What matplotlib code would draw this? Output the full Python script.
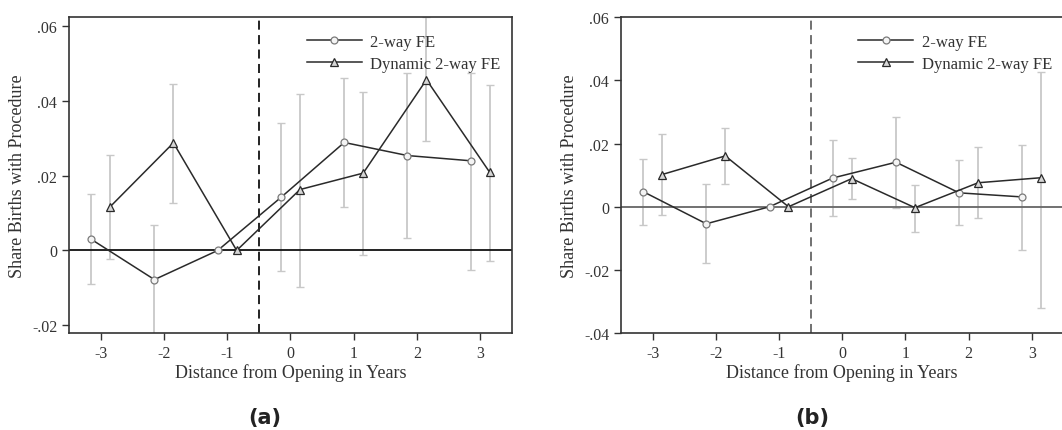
import numpy as np
import matplotlib.pyplot as plt

plt.rcParams['font.family'] = ['Liberation Serif', 'DejaVu Serif']

# event time (years from opening)
years = [-3, -2, -1, 0, 1, 2, 3]

# panel (a)
a_fe = [0.0030, -0.0078, 0.0, 0.0142, 0.0289, 0.0254, 0.0240]
a_fe_hi = [0.0150, 0.0068, 0.0, 0.0340, 0.0461, 0.0476, 0.0476]
a_fe_lo = [-0.0091, -0.0240, 0.0, -0.0056, 0.0117, 0.0033, -0.0052]
a_dyn = [0.0117, 0.0288, 0.0, 0.0163, 0.0207, 0.0457, 0.0209]
a_dyn_hi = [0.0255, 0.0446, 0.0, 0.0419, 0.0423, 0.0624, 0.0443]
a_dyn_lo = [-0.0024, 0.0127, 0.0, -0.0099, -0.0012, 0.0292, -0.0027]

# panel (b)
b_fe = [0.0048, -0.0054, 0.0, 0.0091, 0.0141, 0.0044, 0.0031]
b_fe_hi = [0.0151, 0.0073, 0.0, 0.0210, 0.0284, 0.0147, 0.0197]
b_fe_lo = [-0.0059, -0.0178, 0.0, -0.0028, -0.0003, -0.0058, -0.0136]
b_dyn = [0.0102, 0.0161, 0.0, 0.0089, -0.0003, 0.0076, 0.0092]
b_dyn_hi = [0.0229, 0.0249, 0.0, 0.0153, 0.0070, 0.0188, 0.0426]
b_dyn_lo = [-0.0025, 0.0071, 0.0, 0.0023, -0.0079, -0.0037, -0.0322]

a_yticks = [-0.02, 0, 0.02, 0.04, 0.06]
a_ylabels = ['-.02', '0', '.02', '.04', '.06']
b_yticks = [-0.04, -0.02, 0, 0.02, 0.04, 0.06]
b_ylabels = ['-.04', '-.02', '0', '.02', '.04', '.06']

fig = plt.figure(figsize=(10.62, 4.31), dpi=100)
ax1 = fig.add_axes([0.065, 0.225, 0.417, 0.7325])
ax2 = fig.add_axes([0.5847, 0.225, 0.4167, 0.7325])

x = np.array(years, dtype=float)
ci_col = '#c8c8c8'
line_col = '#2a2a2a'


def panel(ax, fe, fe_lo, fe_hi, dyn, dyn_lo, dyn_hi, zcol):
    xf = x - 0.15
    xd = x + 0.15
    fe = np.array(fe); dyn = np.array(dyn)
    ax.errorbar(xf, fe, yerr=[fe - np.array(fe_lo), np.array(fe_hi) - fe],
                fmt='none', ecolor=ci_col, elinewidth=1.3, capsize=3, capthick=1, zorder=1)
    ax.errorbar(xd, dyn, yerr=[dyn - np.array(dyn_lo), np.array(dyn_hi) - dyn],
                fmt='none', ecolor=ci_col, elinewidth=1.3, capsize=3, capthick=1, zorder=1)
    ax.axhline(0, color=zcol, lw=1.3, zorder=2)
    ax.axvline(-0.5, color=zcol, lw=1.3, ls=(0, (5, 3)), zorder=2)
    ax.plot(xf, fe, color=line_col, lw=1.1, marker='o', ms=5, mfc='#f4f4f4',
            mec='#7a7a7a', mew=0.9, label='2-way FE', zorder=3)
    ax.plot(xd, dyn, color=line_col, lw=1.1, marker='^', ms=6, mfc='#d6d6d6',
            mec='#2a2a2a', mew=0.9, label='Dynamic 2-way FE', zorder=3)
    ax.set_xlim(-3.5, 3.5)
    ax.set_xticks(years)
    ax.set_xticklabels([str(v) for v in years])
    ax.set_xlabel('Distance from Opening in Years', fontsize=13, color='#333333', labelpad=2)
    ax.set_ylabel('Share Births with Procedure', fontsize=13, color='#333333', labelpad=4)
    ax.tick_params(labelsize=11.5, colors='#333333', length=5, width=1)
    for s in ax.spines.values():
        s.set_color('#333333')
        s.set_linewidth(1.2)
    ax.legend(loc='upper right', frameon=False, fontsize=12, handlelength=3.3,
              handletextpad=0.5, borderaxespad=0.3, labelspacing=0.35,
              bbox_to_anchor=(1.0, 0.985), labelcolor='#333333')


panel(ax1, a_fe, a_fe_lo, a_fe_hi, a_dyn, a_dyn_lo, a_dyn_hi, '#111111')
ax1.set_ylim(-0.0221, 0.0624)
ax1.set_yticks(a_yticks)
ax1.set_yticklabels(a_ylabels)

panel(ax2, b_fe, b_fe_lo, b_fe_hi, b_dyn, b_dyn_lo, b_dyn_hi, '#666666')
ax2.set_ylim(-0.04, 0.06)
ax2.set_yticks(b_yticks)
ax2.set_yticklabels(b_ylabels)

fig.text(0.2495, 0.03, '(a)', ha='center', va='center', fontsize=15,
         fontweight='bold', family='DejaVu Sans', color='#222222')
fig.text(0.7645, 0.03, '(b)', ha='center', va='center', fontsize=15,
         fontweight='bold', family='DejaVu Sans', color='#222222')

fig.savefig('out.png', dpi=100, facecolor='white')
